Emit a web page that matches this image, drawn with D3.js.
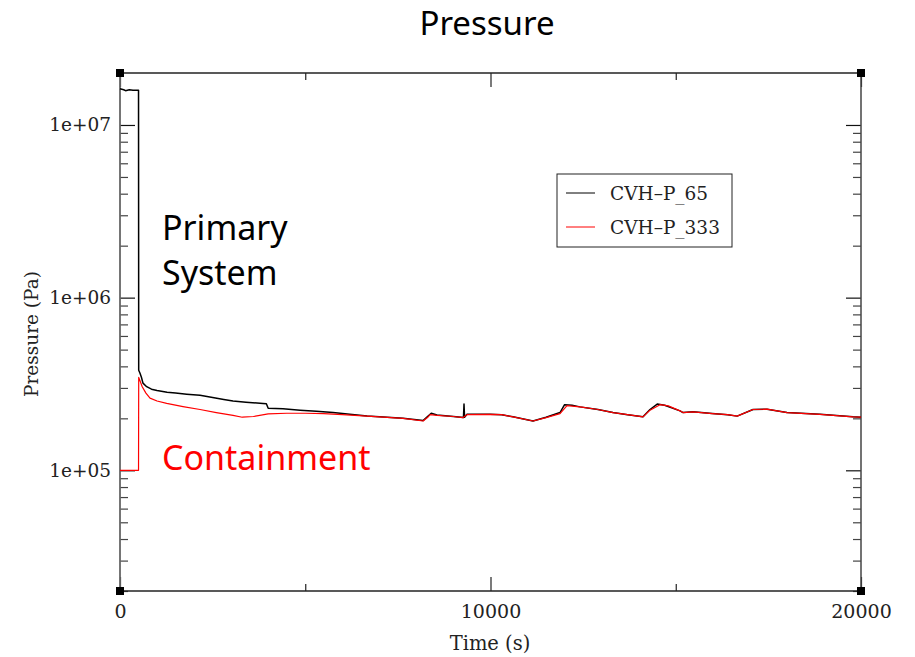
<!DOCTYPE html>
<html>
<head>
<meta charset="utf-8">
<script src="https://cdn.jsdelivr.net/npm/d3@7/dist/d3.min.js"></script>
<style>
  html, body { margin: 0; padding: 0; background: #fff; }
  svg { display: block; }
</style>
</head>
<body>
<div id="chart"></div>
<script>
// Time axis (s) and pressure (Pa) histories for two control volumes
const seriesNames = ["CVH\u2013P_65", "CVH\u2013P_333"];
const seriesColors = ["#000000", "#ff0000"];

// CVH-P_65: primary system
const timeP65 = [0, 100, 150, 250, 350, 500, 505, 540, 580, 620, 720, 850, 1000, 1270, 1500, 1800,
  2160, 2500, 2800, 3050, 3400, 3860, 3950, 4000, 4400, 4860, 5300, 5750, 6200, 6670,
  7000, 7640, 8180, 8300, 8400, 8556, 9000, 9270, 9285, 9300, 9366, 9986, 10300, 10607,
  11147, 11500, 11876, 12000, 12200, 12415, 12900, 13306, 13700, 14116, 14305, 14500, 14700,
  15115, 15196, 15466, 15986, 16400, 16657, 17085, 17463, 18003, 18893, 19784, 20000];
const presP65 = [1.62e7, 1.60e7, 1.58e7, 1.60e7, 1.59e7, 1.59e7, 3.8e5, 3.65e5, 3.45e5, 3.2e5, 3.05e5,
  2.95e5, 2.9e5, 2.83e5, 2.80e5, 2.76e5, 2.72e5, 2.64e5, 2.57e5, 2.52e5, 2.48e5, 2.44e5, 2.43e5,
  2.29e5, 2.27e5, 2.23e5, 2.20e5, 2.16e5, 2.11e5, 2.06e5,
  2.04e5, 2.0e5, 1.94e5, 2.05e5, 2.14e5, 2.09e5, 2.05e5, 2.02e5, 2.42e5, 2.03e5, 2.11e5, 2.11e5,
  2.10e5, 2.04e5, 1.93e5, 2.03e5, 2.16e5, 2.40e5, 2.38e5, 2.33e5, 2.25e5, 2.16e5, 2.10e5, 2.04e5,
  2.25e5, 2.42e5, 2.38e5, 2.21e5, 2.16e5, 2.18e5, 2.13e5, 2.10e5, 2.06e5, 2.25e5, 2.26e5, 2.16e5,
  2.11e5, 2.04e5, 2.03e5];

// CVH-P_333: containment
const timeP333 = [0, 500, 505, 540, 600, 700, 810, 1000, 1260, 1700, 2160, 2600, 3050, 3300, 3600,
  4000, 4500, 5000, 5500, 6000, 6670, 7000, 7640, 8180, 8300, 8370, 8556, 9000, 9258, 9366,
  9986, 10300, 10607, 11147, 11500, 11876, 12065, 12415, 12900, 13306, 13700, 14116, 14305,
  14575, 14800, 15115, 15196, 15466, 15986, 16400, 16657, 17085, 17463, 18003, 18893, 19784, 20000];
const presP333 = [1.0e5, 1.0e5, 3.45e5, 3.3e5, 3.05e5, 2.8e5, 2.62e5, 2.52e5, 2.44e5, 2.34e5,
  2.25e5, 2.16e5, 2.08e5, 2.03e5, 2.05e5, 2.12e5, 2.14e5, 2.14e5, 2.13e5, 2.10e5, 2.06e5,
  2.04e5, 2.0e5, 1.93e5, 2.02e5, 2.10e5, 2.08e5, 2.05e5, 2.02e5, 2.10e5, 2.11e5, 2.10e5,
  2.04e5, 1.93e5, 2.02e5, 2.13e5, 2.37e5, 2.33e5, 2.25e5, 2.16e5, 2.10e5, 2.04e5, 2.23e5,
  2.40e5, 2.36e5, 2.21e5, 2.16e5, 2.18e5, 2.13e5, 2.10e5, 2.06e5, 2.25e5, 2.26e5, 2.16e5,
  2.11e5, 2.04e5, 2.03e5];

// Axis ticks
const xMajorTicks = [0, 10000, 20000];
const xMinorTicks = [5000, 15000];
const yMajorTicks = [1e5, 1e6, 1e7];
const yMinorTicks = [2e4, 3e4, 4e4, 5e4, 6e4, 7e4, 8e4, 9e4,
  2e5, 3e5, 4e5, 5e5, 6e5, 7e5, 8e5, 9e5,
  2e6, 3e6, 4e6, 5e6, 6e6, 7e6, 8e6, 9e6];
const yTickLabels = ["1e+05", "1e+06", "1e+07"];

const W = 915, H = 657;
const m = { left: 120, right: 861, top: 73, bottom: 591 };

const svg = d3.select("#chart").append("svg").attr("width", W).attr("height", H);

const x = d3.scaleLinear().domain([0, 20000]).range([m.left, m.right]);
const y = d3.scaleLog().domain([2e4, 2e7]).range([m.bottom, m.top]);

const serif = "'DejaVu Serif', serif";
const sans = "'Noto Sans', 'Open Sans', sans-serif";

// Title
svg.append("text").attr("x", 487).attr("y", 35).attr("text-anchor", "middle")
  .style("font-family", sans).style("font-size", "33px").attr("fill", "#000").text("Pressure");

function styleAxis(g, color) {
  g.select(".domain").remove();
  g.selectAll(".tick line").attr("stroke", color).attr("stroke-width", 1.2);
  g.selectAll(".tick text").style("font-family", serif).attr("fill", "#222");
}

// Left axis
svg.append("g").attr("transform", `translate(${m.left},0)`)
  .call(d3.axisLeft(y).tickValues(yMinorTicks).tickSize(-8).tickFormat(""))
  .call(g => styleAxis(g, "#444"));
svg.append("g").attr("transform", `translate(${m.left},0)`)
  .call(d3.axisLeft(y).tickValues(yMajorTicks).tickSize(-15).tickPadding(9)
    .tickFormat((d, i) => yTickLabels[i]))
  .call(g => styleAxis(g, "#111"))
  .call(g => g.selectAll(".tick text").style("font-size", "18.5px"));

// Right axis
svg.append("g").attr("transform", `translate(${m.right},0)`)
  .call(d3.axisRight(y).tickValues(yMinorTicks).tickSize(-8).tickFormat(""))
  .call(g => styleAxis(g, "#444"));
svg.append("g").attr("transform", `translate(${m.right},0)`)
  .call(d3.axisRight(y).tickValues(yMajorTicks).tickSize(-15).tickFormat(""))
  .call(g => styleAxis(g, "#111"));

// Bottom axis
svg.append("g").attr("transform", `translate(0,${m.bottom})`)
  .call(d3.axisBottom(x).tickValues(xMinorTicks).tickSize(-7).tickFormat(""))
  .call(g => styleAxis(g, "#222"));
svg.append("g").attr("transform", `translate(0,${m.bottom})`)
  .call(d3.axisBottom(x).tickValues(xMajorTicks).tickSize(-14).tickPadding(14).tickFormat(d3.format("d")))
  .call(g => styleAxis(g, "#222"))
  .call(g => g.selectAll(".tick text").style("font-size", "19px"));

// Top axis
svg.append("g").attr("transform", `translate(0,${m.top})`)
  .call(d3.axisTop(x).tickValues(xMinorTicks).tickSize(-7).tickFormat(""))
  .call(g => styleAxis(g, "#222"));
svg.append("g").attr("transform", `translate(0,${m.top})`)
  .call(d3.axisTop(x).tickValues(xMajorTicks).tickSize(-14).tickFormat(""))
  .call(g => styleAxis(g, "#222"));

// Frame
svg.append("line").attr("x1", m.left).attr("x2", m.right).attr("y1", m.top).attr("y2", m.top)
  .attr("stroke", "#222").attr("stroke-width", 1.5);
svg.append("line").attr("x1", m.left).attr("x2", m.right).attr("y1", m.bottom).attr("y2", m.bottom)
  .attr("stroke", "#222").attr("stroke-width", 1.5);
svg.append("line").attr("x1", m.left).attr("x2", m.left).attr("y1", m.top).attr("y2", m.bottom)
  .attr("stroke", "#666").attr("stroke-width", 1.8);
svg.append("line").attr("x1", m.right).attr("x2", m.right).attr("y1", m.top).attr("y2", m.bottom)
  .attr("stroke", "#444").attr("stroke-width", 1.5);

// Data lines
const line = d3.line().x(d => x(d[0])).y(d => y(d[1]));
const seriesData = [
  d3.zip(timeP65, presP65),
  d3.zip(timeP333, presP333)
];
seriesData.forEach((data, i) => {
  svg.append("path").datum(data).attr("d", line)
    .attr("fill", "none").attr("stroke", seriesColors[i])
    .attr("stroke-width", i === 0 ? 1.5 : 1.2).attr("stroke-linejoin", "round");
});

// Corner markers
[[m.left, m.top], [m.right, m.top], [m.left, m.bottom], [m.right, m.bottom]].forEach(([cx, cy]) => {
  svg.append("rect").attr("x", cx - 4).attr("y", cy - 4).attr("width", 8).attr("height", 8).attr("fill", "#000");
});

// Axis titles
svg.append("text").attr("x", 490).attr("y", 650).attr("text-anchor", "middle")
  .style("font-family", serif).style("font-size", "19.5px").attr("fill", "#222").text("Time (s)");
svg.append("text").attr("transform", "translate(38,334) rotate(-90)").attr("text-anchor", "middle")
  .style("font-family", serif).style("font-size", "18.5px").attr("fill", "#222").text("Pressure (Pa)");

// Region annotations
const notes = [
  { text: "Primary", x: 162, y: 240, color: "#000" },
  { text: "System", x: 162, y: 285, color: "#000" },
  { text: "Containment", x: 162, y: 470, color: "#ff0000" }
];
notes.forEach(n => {
  svg.append("text").attr("x", n.x).attr("y", n.y)
    .style("font-family", sans).style("font-size", "34px").attr("fill", n.color).text(n.text);
});

// Legend
const legend = svg.append("g");
legend.append("rect").attr("x", 557).attr("y", 174).attr("width", 175).attr("height", 73)
  .attr("fill", "#fff").attr("stroke", "#222").attr("stroke-width", 1);
seriesNames.forEach((name, i) => {
  const ly = 193 + i * 34;
  legend.append("line").attr("x1", 566).attr("x2", 595).attr("y1", ly).attr("y2", ly)
    .attr("stroke", seriesColors[i]).attr("stroke-width", 1);
  legend.append("text").attr("x", 610).attr("y", ly + 7)
    .style("font-family", serif).style("font-size", "18.5px").attr("fill", "#222").text(name);
});
</script>
</body>
</html>
